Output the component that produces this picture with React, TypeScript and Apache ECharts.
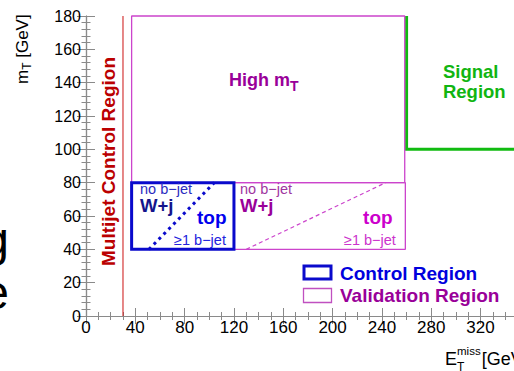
import React, { useEffect, useRef } from "react";
import * as echarts from "echarts";

const FONT = '"Liberation Sans", Arial, Helvetica, sans-serif';

// Axis ranges and major tick steps (GeV)
const etMissRange = [0, 400];
const mtRange = [0, 180];
const etMissStep = 40;
const mtStep = 20;
// Last ETmiss tick that gets a label inside the visible frame
const etMissLastLabel = 320;

// Region boundaries: [ETmiss min, ETmiss max, mT min, mT max] in GeV
const multijetCut = 30;
const highMtRegion = [37, 258.5, 80, 180];
const controlRegion = [37, 120, 40, 80];
const validationRegion = [120, 259, 40, 80];
const signalRegion = [260, 400, 100, 180];

// b-tag split lines inside the control and validation regions: [ETmiss, mT]
const controlSplit = [
  [51, 40],
  [104, 80],
];
const validationSplit = [
  [130, 40],
  [243, 80],
];

const outline = (b: number[]) => {
  const [x0, x1, y0, y1] = b;
  return [
    [x0, y0],
    [x1, y0],
    [x1, y1],
    [x0, y1],
    [x0, y0],
  ];
};

const lineSeries = (name: string, data: number[][], lineStyle: any, z = 3) => ({
  type: "line",
  name,
  data,
  symbol: "none",
  showSymbol: false,
  silent: true,
  clip: false,
  z,
  lineStyle,
});

const measure = (() => {
  const ctx = document.createElement("canvas").getContext("2d")!;
  return (text: string, font: string) => {
    ctx.font = font;
    return ctx.measureText(text).width;
  };
})();

const fontStr = (size: number, bold = false) => `${bold ? "bold " : ""}${size}px ${FONT}`;

const textEl = (
  text: string,
  x: number,
  y: number,
  size: number,
  fill: string,
  bold = false,
  align = "left",
  extra: any = {}
) => ({
  type: "text",
  x,
  y,
  z: 100,
  silent: true,
  ...extra,
  style: {
    text,
    fill,
    font: fontStr(size, bold),
    textAlign: align,
    align,
    textVerticalAlign: "middle",
    verticalAlign: "middle",
    ...(extra.style || {}),
  },
});

export default function App() {
  const ref = useRef<HTMLDivElement>(null);

  useEffect(() => {
    if (!ref.current) return;
    const chart = echarts.init(ref.current, undefined, { renderer: "svg" });

    const axisGray = "#8a8a8a";
    const baseX = {
      type: "value",
      min: etMissRange[0],
      max: etMissRange[1],
      interval: etMissStep,
      axisLine: { show: true, lineStyle: { color: axisGray, width: 1.2 } },
      axisTick: { show: true, inside: true, length: 8, lineStyle: { color: axisGray } },
      minorTick: { show: true, splitNumber: 4, length: 4, lineStyle: { color: axisGray } },
      splitLine: { show: false },
      minorSplitLine: { show: false },
    };
    const baseY = {
      type: "value",
      min: mtRange[0],
      max: mtRange[1],
      interval: mtStep,
      axisLine: { show: true, lineStyle: { color: axisGray, width: 1.2 } },
      axisTick: { show: true, inside: true, length: 9, lineStyle: { color: axisGray } },
      minorTick: { show: true, splitNumber: 5, length: 4.5, lineStyle: { color: axisGray } },
      splitLine: { show: false },
      minorSplitLine: { show: false },
    };

    chart.setOption({
      animation: false,
      backgroundColor: "#ffffff",
      grid: { left: 86, top: 16, width: 493.2, height: 300, containLabel: false },
      xAxis: [
        {
          ...baseX,
          position: "bottom",
          axisLabel: {
            color: "#000",
            fontSize: 17,
            fontFamily: FONT,
            margin: 3,
            formatter: (v: number) => (v <= etMissLastLabel ? String(v) : ""),
          },
        },
        { ...baseX, position: "top", axisLabel: { show: false } },
      ],
      yAxis: [
        {
          ...baseY,
          position: "left",
          axisLabel: { color: "#000", fontSize: 16, fontFamily: FONT, margin: 5 },
        },
        { ...baseY, position: "right", axisLabel: { show: false } },
      ],
      series: [
        lineSeries(
          "Multijet Control Region",
          [
            [multijetCut, mtRange[0]],
            [multijetCut, mtRange[1]],
          ],
          { color: "#cc1111", width: 1 }
        ),
        lineSeries(
          "Signal Region",
          [
            [signalRegion[0], signalRegion[3]],
            [signalRegion[0], signalRegion[2]],
            [signalRegion[1], signalRegion[2]],
          ],
          { color: "#11bb11", width: 3, join: "miter" }
        ),
        lineSeries("High mT", outline(highMtRegion), { color: "#cc44cc", width: 1.3 }, 4),
        lineSeries("Validation Region", outline(validationRegion), { color: "#cc44cc", width: 1.3 }, 4),
        lineSeries("Validation split", validationSplit, { color: "#cc44cc", width: 1.2, type: [4, 3] }, 4),
        lineSeries(
          "Control Region",
          outline(controlRegion),
          { color: "#0a0acc", width: 3, join: "miter", cap: "square" },
          5
        ),
        lineSeries("Control split", controlSplit, { color: "#0a0acc", width: 3, type: [3, 4] }, 5),
      ],
    });

    const px = (x: number, y: number) =>
      chart.convertToPixel({ xAxisIndex: 0, yAxisIndex: 0 }, [x, y]) as number[];

    const els: any[] = [];

    // Multijet control region label (vertical)
    {
      const [x, y] = px(18.3, 92.7);
      els.push(textEl("Multijet Control Region", x, y, 19, "#bb0000", true, "center", { rotation: Math.PI / 2 }));
    }

    // High mT label
    {
      const [x, y] = px(116, 141.6);
      const main = "High m";
      const w = measure(main, fontStr(18, true));
      els.push(textEl(main, x, y, 18, "#990099", true));
      els.push(textEl("T", x + w, y + 6, 14, "#990099", true));
    }

    // Signal region label (two lines)
    {
      const [x, y1] = px(289.5, 146.5);
      const [, y2] = px(289.5, 135);
      els.push(textEl("Signal", x, y1, 18.5, "#11b511", true));
      els.push(textEl("Region", x, y2, 18.5, "#11b511", true));
    }

    // Control region labels
    {
      const [a, b] = px(43.8, 76.5);
      els.push(textEl("no b\u2212jet", a, b, 14.5, "#2b2bc0"));
      const [c, d] = px(43.8, 66.3);
      els.push(textEl("W+j", c, d, 18.5, "#14148c", true));
      const [e, f] = px(90, 59.2);
      els.push(textEl("top", e, f, 19, "#0000ee", true));
      const [g, h] = px(71.4, 45.6);
      els.push(textEl("\u22651 b\u2212jet", g, h, 14.5, "#2222dd"));
    }

    // Validation region labels
    {
      const [a, b] = px(124.9, 76.5);
      els.push(textEl("no b\u2212jet", a, b, 14.5, "#a035a0"));
      const [c, d] = px(124.9, 66.3);
      els.push(textEl("W+j", c, d, 18.5, "#990099", true));
      const [e, f] = px(224.7, 59.2);
      els.push(textEl("top", e, f, 19, "#cc00cc", true));
      const [g, h] = px(209.2, 45.6);
      els.push(textEl("\u22651 b\u2212jet", g, h, 14.5, "#cc33cc"));
    }

    // Legend
    els.push({
      type: "rect",
      z: 100,
      shape: { x: 304, y: 266, width: 27, height: 13 },
      style: { fill: "none", stroke: "#0a0acc", lineWidth: 3 },
    });
    els.push({
      type: "rect",
      z: 100,
      shape: { x: 303.5, y: 288.5, width: 28, height: 14 },
      style: { fill: "none", stroke: "#c050c0", lineWidth: 1.3 },
    });
    els.push(textEl("Control Region", 340, 273, 19, "#0000dd", true));
    els.push(textEl("Validation Region", 340, 295.5, 19, "#990099", true));

    // x-axis title: E_T^miss [GeV]
    {
      const wE = measure("E", fontStr(18));
      els.push(textEl("E", 445, 358.5, 18, "#000"));
      els.push(textEl("miss", 445 + wE, 351, 11.5, "#000"));
      els.push(textEl("T", 445 + wE, 367, 12, "#000"));
      const wMiss = measure("miss", fontStr(11.5));
      els.push(textEl("[GeV]", 445 + wE + wMiss + 1, 359, 18, "#000"));
    }

    // y-axis title: m_T [GeV], reading upwards
    {
      const wm = measure("m", fontStr(17));
      const wT = measure("T", fontStr(12));
      els.push({
        type: "group",
        x: 22,
        y: 84,
        rotation: Math.PI / 2,
        z: 100,
        children: [
          textEl("m", 0, 0, 17, "#000"),
          textEl("T", wm, 5, 12, "#000"),
          textEl(" [GeV]", wm + wT, 0, 17, "#000"),
        ],
      });
    }

    // Edge of neighbouring slide text
    els.push(textEl("g", 9, 239, 48, "#000", false, "right"));
    els.push(textEl("e", 9, 292, 48, "#000", false, "right"));

    chart.setOption({ graphic: { elements: els } });

    return () => chart.dispose();
  }, []);

  return (
    <div
      style={{
        position: "fixed",
        left: 0,
        top: 0,
        width: 514,
        height: 371,
        overflow: "hidden",
        background: "#fff",
      }}
    >
      <div ref={ref} style={{ width: 640, height: 371 }} />
    </div>
  );
}
